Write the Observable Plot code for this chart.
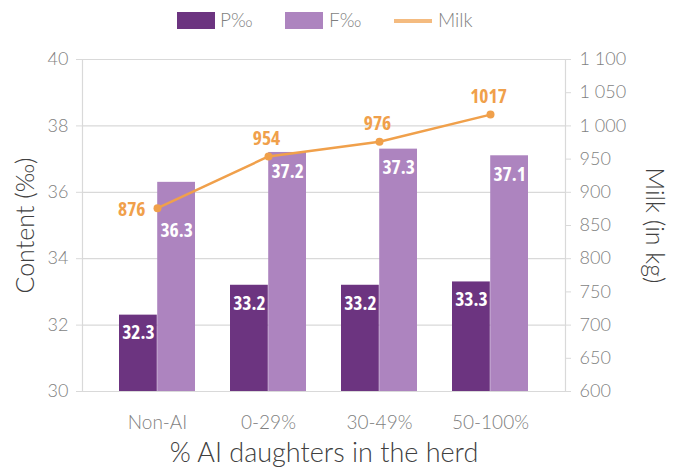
<!DOCTYPE html>
<html>
<head>
<meta charset="utf-8">
<script src="https://cdn.jsdelivr.net/npm/d3@7"></script>
<script src="https://cdn.jsdelivr.net/npm/@observablehq/plot@0.6"></script>
<style>
  html, body { margin: 0; padding: 0; background: #fff; }
  #wrap { width: 677px; height: 468px; position: relative; overflow: hidden; }
  #legend { position: relative; height: 40px; width: 677px; font-family: Lato, "Open Sans", sans-serif; font-weight: 300; font-size: 19px; color: #7f7f7f; }
  .sw { position: absolute; top: 12px; width: 38px; height: 17px; }
  .ln { position: absolute; top: 19px; width: 38px; height: 4px; }
  .lt { position: absolute; top: 7px; line-height: 26px; }
  svg g[font-family*="Open Sans"] { font-stretch: 75%; }
</style>
</head>
<body>
<div id="wrap">
  <div id="legend"></div>
  <div id="chart"></div>
</div>
<script>
const categories = ["Non-AI", "0-29%", "30-49%", "50-100%"];
const protein = [32.3, 33.2, 33.2, 33.3];
const fat = [36.3, 37.2, 37.3, 37.1];
const milk = [876, 954, 976, 1017];
const leftTicks = [30, 32, 34, 36, 38, 40];
const rightTicks = [600, 650, 700, 750, 800, 850, 900, 950, 1000, 1050, 1100];
const seriesNames = ["P‰", "F‰", "Milk"];

const colP = "#6c3480", colF = "#ad84bf", colMilk = "#f0a04b";
const toY = m => 30 + (m - 600) / 50;
const fmt = v => d3.format(",")(v).replace(/,/g, " ");

const data = categories.map((c, i) => ({cat: c, P: protein[i], F: fat[i], milk: milk[i], milkY: toY(milk[i])}));

const W = 677, H = 428, mL = 82, mR = 112, mT = 19, mB = 77;
const pad = 0.317;
const step = (W - mL - mR) / (categories.length - pad + 2 * pad);
const bw = step * (1 - pad);
const half = bw / 2;

const tickFont = "Lato, sans-serif";
const boldFont = "'Open Sans', Roboto, sans-serif";

// legend
const leg = document.getElementById("legend");
leg.innerHTML = `
  <div class="sw" style="left:177px;background:${colP}"></div><div class="lt" style="left:220px">${seriesNames[0]}</div>
  <div class="sw" style="left:285px;background:${colF}"></div><div class="lt" style="left:329px">${seriesNames[1]}</div>
  <div class="ln" style="left:394px;background:#f4bb80"></div><div class="lt" style="left:438px">${seriesNames[2]}</div>`;

const lbl = {fontSize: 19.5, fontWeight: "bold", fontFamily: boldFont};

const plot = Plot.plot({
  width: W, height: H,
  marginLeft: mL, marginRight: mR, marginTop: mT, marginBottom: mB,
  style: {fontFamily: tickFont, background: "transparent", overflow: "visible"},
  x: {type: "band", domain: categories, padding: pad},
  y: {domain: [30, 40]},
  marks: [
    Plot.ruleY(leftTicks, {stroke: "#d9d9d9", strokeWidth: 1.2}),
    Plot.frame({anchor: "left", stroke: "#d9d9d9", strokeWidth: 1.2}),
    Plot.frame({anchor: "right", stroke: "#d9d9d9", strokeWidth: 1.2}),
    Plot.axisY({ticks: leftTicks, anchor: "left", tickSize: 6, tickPadding: 8, stroke: "#d9d9d9", fill: "#7f7f7f", fontSize: 18, fontWeight: 300, label: null}),
    Plot.axisY({ticks: rightTicks.map(toY), anchor: "right", tickSize: 5, tickPadding: 9, tickFormat: d => fmt(Math.round(600 + (d - 30) * 50)), stroke: "#d9d9d9", fill: "#7f7f7f", fontSize: 18, fontWeight: 300, label: null}),
    Plot.axisX({tickSize: 0, tickPadding: 24, fill: "#7f7f7f", fontSize: 19, fontWeight: 300, label: null}),
    Plot.barY(data, {x: "cat", y1: 30, y2: "P", fill: colP, insetRight: half}),
    Plot.barY(data, {x: "cat", y1: 30, y2: "F", fill: colF, insetLeft: half}),
    Plot.text(data, {x: "cat", y: "P", text: d => d.P.toFixed(1), dx: -half / 2, dy: 18, fill: "white", ...lbl}),
    Plot.text(data.filter((d, i) => i > 0), {x: "cat", y: "F", text: d => d.F.toFixed(1), dx: half / 2, dy: 19, fill: "white", ...lbl}),
    Plot.text(data.filter((d, i) => i === 0), {x: "cat", y: "F", text: d => d.F.toFixed(1), dx: half / 2, dy: 48, fill: "white", ...lbl}),
    Plot.line(data, {x: "cat", y: "milkY", stroke: colMilk, strokeWidth: 2.5}),
    Plot.dot(data, {x: "cat", y: "milkY", r: 4, fill: colMilk}),
    Plot.text(data.filter((d, i) => i === 0), {x: "cat", y: "milkY", text: d => String(d.milk), dx: -12, dy: 2, textAnchor: "end", fill: colMilk, ...lbl}),
    Plot.text(data.filter((d, i) => i > 0), {x: "cat", y: "milkY", text: d => String(d.milk), dx: -2, dy: -18, fill: colMilk, ...lbl}),
    Plot.text(["Content (‰)"], {frameAnchor: "left", textAnchor: "middle", dx: -57, rotate: -90, fill: "#404040", fontSize: 25, fontWeight: 300}),
    Plot.text(["Milk (in kg)"], {frameAnchor: "right", textAnchor: "middle", dx: 88, rotate: 90, fill: "#404040", fontSize: 25, fontWeight: 300}),
    Plot.text(["% AI daughters in the herd"], {frameAnchor: "bottom", lineAnchor: "middle", dy: 62, fill: "#404040", fontSize: 27, fontWeight: 300})
  ]
});
document.getElementById("chart").appendChild(plot);
</script>
</body>
</html>
